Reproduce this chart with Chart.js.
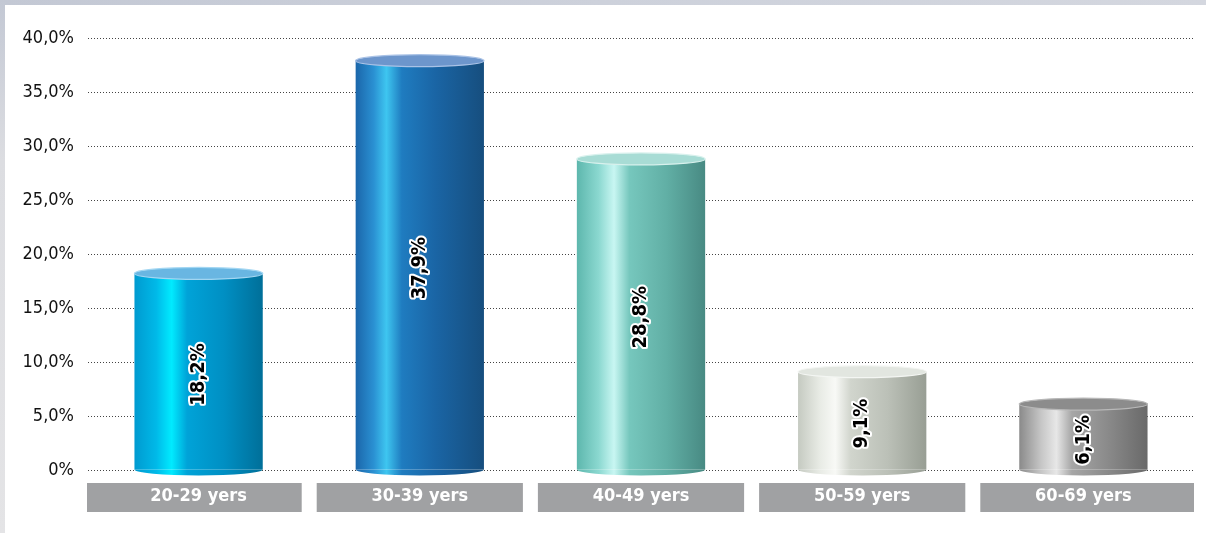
<!DOCTYPE html>
<html>
<head>
<meta charset="utf-8">
<script src="https://cdn.jsdelivr.net/npm/chart.js@4"></script>
<style>
  html, body { margin: 0; padding: 0; background: #ffffff; overflow: hidden; }
  #wrap { position: relative; width: 1206px; height: 533px; }
  #topStrip { position: absolute; left: 0; top: 0; width: 1206px; height: 5px;
    background: linear-gradient(to right, #c3c8d4, #cdd1db 50%, #d4d7df); }
  #leftStrip { position: absolute; left: 0; top: 0; width: 5px; height: 533px;
    background: linear-gradient(to bottom, #c3c8d4, #dcdde1 30%, #e4e4e6); }
</style>
</head>
<body>
<div id="wrap">
  <canvas id="c" width="1206" height="533"></canvas>
  <div id="topStrip"></div>
  <div id="leftStrip"></div>
</div>
<script>
// ---- data ----
const categories = ['20-29 yers', '30-39 yers', '40-49 yers', '50-59 yers', '60-69 yers'];
const values = [18.2, 37.9, 28.8, 9.1, 6.1];
const valueLabels = ['18,2%', '37,9%', '28,8%', '9,1%', '6,1%'];
const yTickLabels = ['0%', '5,0%', '10,0%', '15,0%', '20,0%', '25,0%', '30,0%', '35,0%', '40,0%'];

// ---- styles ----
const bodyStops = [
  [[0,'#009ad0'],[0.17,'#00b9e8'],[0.29,'#00ebff'],[0.41,'#00a3d8'],[0.7,'#008fc3'],[1,'#006f99']],
  [[0,'#1b66aa'],[0.14,'#2a90d2'],[0.24,'#3ec6f0'],[0.36,'#1f7cc0'],[0.62,'#1a65a5'],[1,'#164e7e']],
  [[0,'#5db7ad'],[0.17,'#8bd8d0'],[0.29,'#c8f6f2'],[0.41,'#76c7bd'],[0.7,'#61afa5'],[1,'#488a83']],
  [[0,'#c5cac1'],[0.17,'#e8ebe5'],[0.29,'#f8f9f6'],[0.41,'#d1d5cd'],[0.7,'#bbc0b7'],[1,'#989e94']],
  [[0,'#8a8a8a'],[0.17,'#c6c6c6'],[0.29,'#e7e7e7'],[0.41,'#a6a6a6'],[0.7,'#898989'],[1,'#696969']]
];
const topFill = ['#69b6e2', '#6d96cc', '#a8dcd5', '#e2e6e0', '#8c8c8c'];
const topRim  = ['#a2d6f2', '#a9c2e6', '#d8f1ed', '#f4f6f3', '#b8b8b8'];
const BAR_PCT = 0.58;
const RY = 6;
const FONT = '"DejaVu Sans Condensed", "Liberation Sans Narrow", sans-serif';

function barGradient(chart, i) {
  const xs = chart.scales.x;
  const cx = xs.getPixelForValue(i);
  const w = (xs.right - xs.left) / categories.length * BAR_PCT;
  const g = chart.ctx.createLinearGradient(cx - w / 2, 0, cx + w / 2, 0);
  bodyStops[i].forEach(s => g.addColorStop(s[0], s[1]));
  return g;
}

const cylinderPlugin = {
  id: 'cylinders',
  beforeDraw(chart) {
    const ctx = chart.ctx, xs = chart.scales.x, ca = chart.chartArea;
    const n = categories.length, cw = (xs.right - xs.left) / n;
    ctx.save();
    ctx.fillStyle = '#a0a1a3';
    for (let i = 0; i < n; i++) {
      const l = i === 0 ? xs.left - 1 : xs.left + cw * i + 7.5;
      const r = i === n - 1 ? xs.right : xs.left + cw * (i + 1) - 7.5;
      ctx.fillRect(l, ca.bottom + 13, r - l, 29);
    }
    ctx.restore();
  },
  afterDatasetsDraw(chart) {
    const ctx = chart.ctx;
    const meta = chart.getDatasetMeta(0);
    meta.data.forEach((el, i) => {
      const p = el.getProps(['x', 'y', 'base', 'width'], true);
      const rx = p.width / 2;
      ctx.save();
      ctx.beginPath();
      ctx.ellipse(p.x, p.base, rx, RY, 0, 0, Math.PI);
      ctx.closePath();
      ctx.fillStyle = barGradient(chart, i);
      ctx.fill();
      ctx.beginPath();
      ctx.ellipse(p.x, p.y, rx, RY, 0, 0, Math.PI * 2);
      ctx.fillStyle = topFill[i];
      ctx.fill();
      ctx.lineWidth = 1.2;
      ctx.strokeStyle = topRim[i];
      ctx.stroke();
      ctx.translate(p.x, (p.y + p.base) / 2 + 3);
      ctx.rotate(-Math.PI / 2);
      ctx.font = 'bold 20px ' + FONT;
      ctx.textAlign = 'center';
      ctx.textBaseline = 'middle';
      ctx.lineJoin = 'round';
      ctx.lineWidth = 4;
      ctx.strokeStyle = '#ffffff';
      ctx.strokeText(valueLabels[i], 0, 0);
      ctx.fillStyle = '#000000';
      ctx.fillText(valueLabels[i], 0, 0);
      ctx.restore();
    });
  }
};

new Chart(document.getElementById('c'), {
  type: 'bar',
  data: {
    labels: categories,
    datasets: [{
      data: values,
      backgroundColor: (c) => {
        if (!c.chart.chartArea) return bodyStops[c.dataIndex][2][1];
        return barGradient(c.chart, c.dataIndex);
      },
      borderWidth: 0,
      barPercentage: BAR_PCT,
      categoryPercentage: 1.0
    }]
  },
  options: {
    responsive: false,
    animation: false,
    events: [],
    layout: { padding: { left: 0, right: 12, top: 38, bottom: 0 } },
    plugins: { legend: { display: false }, tooltip: { enabled: false } },
    scales: {
      x: {
        grid: { display: false, drawTicks: false },
        border: { display: false },
        ticks: {
          color: '#ffffff',
          padding: 16,
          font: { family: FONT, size: 18, weight: 'bold' }
        },
        afterFit: (s) => { s.height = 63; }
      },
      y: {
        min: 0, max: 40,
        ticks: {
          stepSize: 5,
          color: '#111111',
          padding: 14,
          font: { family: FONT, size: 18 },
          callback: (v, idx) => yTickLabels[idx]
        },
        grid: { color: '#444444', lineWidth: 1, drawTicks: false },
        border: { display: false, dash: [1, 2] },
        afterFit: (s) => { s.width = 88; }
      }
    }
  },
  plugins: [cylinderPlugin]
});
</script>
</body>
</html>
